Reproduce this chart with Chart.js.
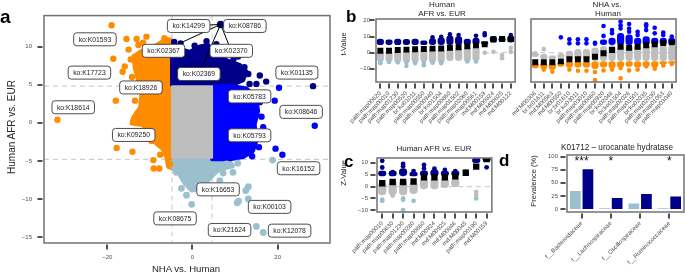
<!DOCTYPE html>
<html>
<head>
<meta charset="utf-8">
<script src="https://cdn.jsdelivr.net/npm/chart.js@4.4.1/dist/chart.umd.min.js"></script>
<style>
  body { margin: 0; background: #fff; }
  #wrap { position: relative; width: 685px; height: 278px; overflow: hidden; font-family: "Liberation Sans", Arial, sans-serif; }
  canvas { position: absolute; }
  .txt { position: absolute; white-space: nowrap; color: #262626; transform: translate(-50%, -50%); line-height: 1; }
  .rot { transform: translate(-50%, -50%) rotate(-90deg); }
  .tag { position: absolute; font-weight: bold; color: #000; line-height: 1; }
</style>
</head>
<body>
<div id="wrap">
  <canvas id="chartA" width="340" height="278" style="left:0;top:0"></canvas>
  <canvas id="chartB1" width="184" height="140" style="left:340px;top:0"></canvas>
  <canvas id="chartB2" width="185" height="140" style="left:500px;top:0"></canvas>
  <canvas id="chartC" width="160" height="138" style="left:340px;top:140px"></canvas>
  <canvas id="chartD" width="185" height="138" style="left:500px;top:140px"></canvas>

  <div class="tag" style="left:0;top:7px;font-size:19px">a</div>
  <div class="tag" style="left:346px;top:8px;font-size:17px">b</div>
  <div class="tag" style="left:344px;top:153px;font-size:17px">c</div>
  <div class="tag" style="left:499px;top:152px;font-size:17px">d</div>

  <div class="txt rot" style="left:12px;top:127px;font-size:10px">Human AFR vs. EUR</div>
  <div class="txt" style="left:186px;top:269px;font-size:9.6px">NHA vs. Human</div>

  <div class="txt" style="left:442px;top:5px;font-size:8px">Human</div>
  <div class="txt" style="left:442px;top:13.5px;font-size:8px">AFR vs. EUR</div>
  <div class="txt" style="left:607px;top:5px;font-size:8px">NHA vs.</div>
  <div class="txt" style="left:608px;top:13.5px;font-size:8px">Human</div>
  <div class="txt rot" style="left:344px;top:44px;font-size:7.5px">t-Value</div>

  <div class="txt" style="left:434px;top:148.5px;font-size:8px">Human AFR vs. EUR</div>
  <div class="txt rot" style="left:344px;top:173px;font-size:7.5px">Z-Value</div>

  <div class="txt" style="left:617px;top:147.5px;font-size:8.2px">K01712 – urocanate hydratase</div>
  <div class="txt rot" style="left:534px;top:181px;font-size:7.5px">Prevalence (%)</div>
</div>

<script>
// couleurs reprises de la figure
const ORANGE = '#FF8C00', NAVY = '#00008B', BLUE = '#0000FF', LIGHT = '#9AC0CD', GREY = '#BEBEBE';

// ---------- panneau a ----------
const aXTicks = [-20, 0, 20];
const aYTicks = [-15, -10, -5, 0, 5, 10];
const aCutX = [-4.8, 4.6];
const aCutY = [-4.8, 4.8];

// contours des nuages denses
const aOrangeCloud = [[-4.8,10.9],[-6.1,11.0],[-8.4,10.2],[-10.8,9.7],[-12.3,9.3],[-13.9,8.7],[-13.5,7.1],[-12.7,5.4],
  [-12.0,3.7],[-12.3,2.0],[-13.9,0.7],[-14.3,-0.1],[-11.6,-0.3],[-10.8,-1.5],[-8.4,-2.8],[-6.9,-3.5],[-6.1,-4.6],
  [-5.7,-5.8],[-4.8,-6.0],[-4.8,10.9]];
const aNavyCloud = [[-4.8,4.8],[-4.8,9.3],[-3.0,9.7],[-0.6,9.3],[1.7,10.0],[3.7,10.2],[4.8,9.3],[6.4,8.7],[8.8,8.0],
  [11.1,7.6],[12.7,6.7],[11.9,5.6],[9.5,5.0],[8.0,4.8],[-4.8,4.8]];
const aBlueCloud = [[4.6,4.8],[9.5,4.8],[12.7,4.5],[15.0,3.2],[15.4,1.5],[14.6,-0.2],[15.0,-2.4],[14.2,-3.7],
  [11.9,-4.5],[8.8,-4.8],[4.6,-4.8],[4.6,4.8]];
const aLightCloud = [[-4.8,-4.9],[4.6,-4.9],[8.8,-5.1],[9.5,-5.7],[6.4,-6.1],[4.8,-6.9],[3.3,-7.8],[1.7,-8.7],
  [-0.2,-8.9],[-1.8,-8.0],[-3.4,-6.5],[-4.8,-5.8],[-4.8,-4.9]];
const aGreyBox = [[-4.8,-4.6],[4.6,-4.6],[4.6,4.8],[-4.8,4.8],[-4.8,-4.6]];

// points isolés
const aOrangeDots = [[-19.0,12.8],[-15.5,11.0],[-13.1,11.0],[-10.8,11.3],[-12.7,10.2],[-6.6,11.1],[-18.6,8.4],
  [-15.9,7.4],[-16.4,6.7],[-18.0,2.9],[-13.5,2.9],[-31.7,0.4],[-17.8,-3.3],[-14.1,-3.8],[-9.2,-4.9],[-9.1,-6.0],
  [-7.8,-6.0],[-5.3,-5.4],[-13.9,0.2],[-14.5,8.3],[-14.2,6.0],[-14.8,4.6],[-13.0,1.2],[-9.6,-2.4],[-7.6,-4.2],
  [-15.0,9.6],[-11.6,10.5]];
const aNavyDots = [[10.7,8.7],[8.8,6.9],[11.1,7.1],[13.1,6.4],[15.8,6.2],[17.3,5.4],[15.0,5.1],[13.4,5.1],
  [28.3,4.8],[3.3,10.7],[5.6,10.3],[-4.3,10.6],[-2.8,10.4],[7.4,9.2],[9.6,8.3],[12.2,7.3],[0.5,10.1]];
const aNavyHit = [[6.6,12.9]];
const aBlueDots = [[20.3,4.6],[19.3,2.9],[15.8,2.7],[28.7,-0.4],[19.5,-3.4],[21.1,-4.2],[14.0,-4.4],[16.2,0.8],
  [15.8,-1.8],[16.0,3.8],[15.6,-3.2],[16.6,-0.6]];
const aLightDots = [[18.8,-4.9],[8.0,-5.4],[9.5,-6.5],[-3.8,-6.5],[12.5,-8.9],[13.1,-10.0],[10.5,-10.5],[10.8,-10.3],
  [-0.2,-10.7],[15.0,-13.6],[16.6,-14.4],[6.4,-7.6],[2.5,-9.2],[-1.4,-9.5],[13.1,-8.4],[10.6,-5.3],[7.2,-6.6],
  [-2.6,-8.6],[4.0,-8.4]];

// étiquettes : texte, x, y
const aLabels = [
  ['ko:K01593', -22.9, 10.95], ['ko:K14299', -0.9, 12.7], ['ko:K08786', 12.3, 12.7],
  ['ko:K02367', -6.8, 9.44], ['ko:K02370', 9.1, 9.44], ['ko:K02369', 1.5, 6.4],
  ['ko:K17723', -24.2, 6.58], ['ko:K01135', 24.5, 6.58], ['ko:K18926', -12.1, 4.63],
  ['ko:K05783', 13.4, 3.46], ['ko:K18614', -28.0, 2.03], ['ko:K08646', 25.5, 1.43],
  ['ko:K09250', -13.8, -1.6], ['ko:K05793', 13.4, -1.65], ['ko:K16152', 24.9, -5.97],
  ['ko:K16653', 6.0, -8.74], ['ko:K00103', 18.1, -11.04], ['ko:K08675', -4.1, -12.55],
  ['ko:K21624', 8.7, -14.07], ['ko:K12078', 22.8, -14.16]
];
const aLinks = ['ko:K14299', 'ko:K08786', 'ko:K02367', 'ko:K02370', 'ko:K02369'];

// ---------- panneau b ----------
const bYTicks = [-10, 0, 10, 20];
const bLeftCats = ['path:map00620','path:map00010','path:map01230','path:map00520','br:ko01011','path:map00550',
  'path:map00940','br:ko01504','path:map00860','path:map01502','path:map02060','path:map00561','md:M00159',
  'md:M00824','md:M00825','md:M00122'];
const bLeftMed = [1.2, 1.2, 1.7, 1.9, 2.1, 2.3, 2.5, 2.6, 3.1, 3.4, 3.9, 4.6, 5.2, 8.3, 8.5, 8.4];
const bLeftNavyBand = [[5,8.5],[5,8],[5,8.5],[5,8.3],[5,8.5],[5,7.3],[5,8.8],[5,9.3],[5,10.5],[5,10],[5,8.5],
  [5,9],[5.5,6.5],[6.5,10],[7,9.5],[6.5,10.3]];
const bLeftNavyDots = [[],[],[],[],[],[],[9.5],[9.9],[11.4],[11],[],[10.5],[10.8,12],[],[],[11]];
const bLeftGreyBand = [[-5.5,1],[-5.5,1],[-6,1.5],[-6,1.5],[-6,2],[-5.5,2],[-6,2.5],[-6,2.5],[-5,3],[-5,3],
  [-5.5,3.5],[-5,4],null,null,null,null];
const bLeftGreyDots = [[],[],[],[],[],[],[],[],[],[],[],[],[0],[0.5],[-1.5,-3.5],[3,0.5]];
const bLeftLightDots = [[-6,-6.5],[-5.8],[-6],[-6,-8.3],[-6.5],[-6,-7.8],[-6.2],[-6,-6.5],[],[],[-5.5],[-5.5],[],[],[],[]];

const bRightCats = ['md:M00308','br:br01611','md:M00563','md:M00550','br:br01610','br:ko03011','path:map03010',
  'path:map00860','path:map00920','br:ko02048','br:ko01504','path:map02026','path:map01501','br:ko02035',
  'path:map02030','path:map01053','path:map03040'];
const bRightMed = [-6, -6, -6, -5.4, -4.1, -4.1, -4.1, -2.5, -0.4, 1.7, 3.7, 3.1, 3.7, 4.6, 5.2, 6, 6.4];
const bRightBlueBand = [null,null,null,null,null,null,null,null,[5,8],[5,9],[5,12],[5,11],[5,9],[5,10],[5,9],[5,9],[5,9]];
const bRightBlueDots = [[],[],[],[9.5],[8.3,5.8],[8.3,5.8],[8.3,5.8],[6.2,5.5],[16.6,10.4],[14,12],[19.3,17,15],
  [17.8,15,13],[13,11],[17.6,16.5,14],[15.5,12],[12.5,11],[10]];
const bRightGreyBand = [[-2.5,0],[-4,-1],[-4,-2],[-3,-1],[-5,1],[-5,2],[-5,2],[-5,3],[-5,4],[-5,4.5],[-5,4.5],
  [-5,4.5],[-5,4.5],[-5,4.5],[-5,4.5],[-5,4.5],[-5,4.5]];
const bRightGreyDots = [[-0.4],[2.2],[],[-1.4],[],[],[],[],[],[],[],[],[],[],[],[],[]];
const bRightOrangeBand = [[-9.5,-6.5],[-10,-6],[-10.5,-6],[-8.5,-5.5],[-9,-5.5],[-9,-5.5],[-9,-5.5],[-10,-5.5],
  [-9,-5.5],[-9.5,-5.5],[-9,-5.5],[-8.5,-5.5],[-9,-5.5],[-8.5,-5.5],[-9,-5.5],[-7,-5.5],[-6.5,-5.5]];
const bRightOrangeDots = [[],[-10.5],[-11.8],[],[-10.5],[-11.2],[-11.2],[-17,-12],[-11],[-10.5],[-15.9,-9.5],
  [-11],[-10.5],[-8.5],[-10],[-8],[-7]];

// ---------- panneau c ----------
const cYTicks = [-10, -5, 0, 5, 10];
const cCats = ['path:map00010','path:map00630','path:map01230','path:map00280','path:map00860','md:M00924',
  'md:M00925','md:M00846','md:M00045','path:map00190','md:M00159'];
const cMed = [1.4, 1.9, 1.9, 2.1, 3.9, 3.9, 3.9, 4.3, 5.8, 8.4, 11.6];
const cNavyBand = [[4.5,6.5],[4.5,6.5],[4.5,7.5],[4.5,6],[4.5,6.5],[4.5,7],[4.5,6.5],[4.5,6.5],null,[10,12],[10.5,12.5]];
const cNavyDots = [[10.8,8],[6],[9.5,8.5],[6.5],[9.1,7.5],[7.5],[7],[6.5],[6.2],[8.5],[8.1]];
const cGreyBand = [[-3.5,2],[-3.5,2.5],[-3.5,2.5],[-3,2],[-1,3.5],[-1,3.5],[-0.5,3.5],[0,3.5],null,null,null];
const cGreyDots = [[],[-3.8],[-2.5],[],[],[],[],[],[],[-2.2,-3.6],[]];
const cLightDots = [[-6,-5.5],[],[-5,-5.6,-9.9],[-6],[],[],[],[],[],[-5],[]];

// ---------- panneau d ----------
const dYTicks = [0, 25, 50, 75, 100];
const dCats = ['f__Bacteroidaceae', 'f__Lachnospiraceae', 'f__Oscillospiraceae', 'f__Ruminococcaceae'];
const dLight = [36, 2.5, 12, 2.5];
const dNavy = [77.5, 22.3, 29.9, 25.4];
const dStars = ['***', '*', '', '*'];
const dStarY = 95;

Chart.defaults.font.family = '"Liberation Sans", Arial, sans-serif';
Chart.defaults.color = '#4d4d4d';

const minus = v => String(v).replace('-', '\u2212');

// cadre gris + petits traits de graduation
const frame = {
  id: 'frame',
  afterDraw(chart, args, opts) {
    const { ctx, chartArea: a } = chart;
    ctx.save();
    ctx.strokeStyle = '#727272';
    ctx.lineWidth = 1.5;
    ctx.strokeRect(a.left, a.top, a.right - a.left, a.bottom - a.top);
    ctx.strokeStyle = '#4f4f4f';
    ctx.lineWidth = 2;
    ctx.beginPath();
    const sx = chart.scales.x, sy = chart.scales.y;
    sx.ticks.forEach((t, i) => {
      const p = Math.round(sx.getPixelForTick(i));
      ctx.moveTo(p, a.bottom + 1.5);
      ctx.lineTo(p, a.bottom + 6.5);
    });
    if (opts.y !== false) {
      sy.ticks.forEach((t, i) => {
        const p = Math.round(sy.getPixelForTick(i));
        ctx.moveTo(a.left - 1.5, p);
        ctx.lineTo(a.left - 6.5, p);
      });
    }
    ctx.stroke();
    ctx.restore();
  }
};

// lignes pointillées de seuil
const refLines = {
  id: 'refLines',
  beforeDatasetsDraw(chart, args, opts) {
    const { ctx, chartArea: a, scales: { x, y } } = chart;
    ctx.save();
    ctx.setLineDash([5, 4]);
    ctx.strokeStyle = '#cfcfcf';
    ctx.lineWidth = 1.2;
    ctx.beginPath();
    (opts.xs || []).forEach(v => {
      const p = x.getPixelForValue(v);
      ctx.moveTo(p, a.top); ctx.lineTo(p, a.bottom);
    });
    (opts.ys || []).forEach(v => {
      const p = y.getPixelForValue(v);
      ctx.moveTo(a.left, p); ctx.lineTo(a.right, p);
    });
    ctx.stroke();
    ctx.restore();
  }
};

// étiquettes encadrées du panneau a
const koLabels = {
  id: 'koLabels',
  afterDatasetsDraw(chart) {
    const { ctx, scales: { x, y } } = chart;
    ctx.save();
    ctx.strokeStyle = '#000';
    ctx.lineWidth = 1;
    ctx.beginPath();
    const hx = x.getPixelForValue(aNavyHit[0][0]), hy = y.getPixelForValue(aNavyHit[0][1]);
    aLabels.filter(l => aLinks.includes(l[0])).forEach(l => {
      ctx.moveTo(hx, hy);
      ctx.lineTo(x.getPixelForValue(l[1]), y.getPixelForValue(l[2]));
    });
    ctx.stroke();
    ctx.font = '6.8px "Liberation Sans", Arial, sans-serif';
    ctx.textAlign = 'center';
    ctx.textBaseline = 'middle';
    aLabels.forEach(([t, lx, ly]) => {
      const px = x.getPixelForValue(lx), py = y.getPixelForValue(ly);
      const w = ctx.measureText(t).width + 10, h = 13;
      ctx.beginPath();
      if (ctx.roundRect) ctx.roundRect(px - w / 2, py - h / 2, w, h, 3);
      else ctx.rect(px - w / 2, py - h / 2, w, h);
      ctx.fillStyle = '#fff';
      ctx.fill();
      ctx.strokeStyle = '#3a3a3a';
      ctx.lineWidth = 0.9;
      ctx.stroke();
      ctx.fillStyle = '#222';
      ctx.fillText(t, px, py + 0.5);
    });
    ctx.restore();
  }
};

// étoiles de significativité (panneau d)
const stars = {
  id: 'stars',
  afterDatasetsDraw(chart) {
    const { ctx, scales: { x, y } } = chart;
    ctx.save();
    ctx.font = '12px "Liberation Sans", Arial, sans-serif';
    ctx.fillStyle = '#111';
    ctx.textAlign = 'center';
    ctx.textBaseline = 'middle';
    dStars.forEach((s, i) => {
      if (s) ctx.fillText(s, x.getPixelForValue(i), y.getPixelForValue(dStarY) + 3);
    });
    ctx.restore();
  }
};

function linScale(min, max, ticks, size, isX, pad, extra) {
  return Object.assign({
    type: 'linear', min: min, max: max,
    grid: { display: false, drawTicks: false },
    border: { display: false },
    afterBuildTicks: s => { s.ticks = ticks.map(v => ({ value: v })); },
    afterFit: s => { if (isX) s.height = size; else s.width = size; },
    ticks: { padding: pad, font: { size: 6 }, color: '#4d4d4d', callback: v => minus(v) }
  }, extra || {});
}

function catScale(height, pad) {
  return {
    type: 'category', offset: true,
    grid: { display: false, drawTicks: false },
    border: { display: false },
    afterFit: s => { s.height = height; },
    ticks: { padding: pad, font: { size: 6 }, color: '#4d4d4d', minRotation: 45, maxRotation: 45, autoSkip: false }
  };
}

function cloud(pts, color, order) {
  return {
    data: pts.map(p => ({ x: p[0], y: p[1] })), showLine: true, fill: 'shape',
    backgroundColor: color, borderColor: color, borderWidth: 4, borderJoinStyle: 'round',
    pointRadius: 0, order: order
  };
}

function dotsXY(pts, color, r, order) {
  return {
    data: pts.map(p => ({ x: p[0], y: p[1] })), pointRadius: r, pointBackgroundColor: color,
    pointBorderWidth: 0, order: order
  };
}

function band(data, color, w) {
  return {
    type: 'bar', data: data, backgroundColor: color, barThickness: w, borderRadius: w / 2,
    borderSkipped: false, grouped: false, order: 6
  };
}

function dots(cats, lists, color, r) {
  return {
    type: 'line', showLine: false,
    data: cats.flatMap((c, i) => lists[i].map(v => ({ x: c, y: v }))),
    pointRadius: r, pointBackgroundColor: color, pointBorderWidth: 0, order: 3
  };
}

function medians(vals, r) {
  return {
    type: 'line', showLine: false, data: vals, pointStyle: 'rect', pointRadius: r,
    pointBackgroundColor: '#000', pointBorderWidth: 0, order: 1
  };
}

const baseOpts = {
  responsive: false, animation: false, devicePixelRatio: 1,
  events: []
};

// panneau a
new Chart(document.getElementById('chartA'), {
  type: 'scatter',
  data: {
    datasets: [
      cloud(aOrangeCloud, ORANGE, 20),
      cloud(aNavyCloud, NAVY, 19),
      cloud(aLightCloud, LIGHT, 18),
      cloud(aBlueCloud, BLUE, 17),
      Object.assign(cloud(aGreyBox, GREY, 16), { borderWidth: 2 }),
      dotsXY(aOrangeDots, ORANGE, 3.2, 5),
      dotsXY(aNavyDots, NAVY, 3.2, 5),
      dotsXY(aBlueDots, BLUE, 3.2, 5),
      dotsXY(aLightDots, LIGHT, 3.4, 5),
      dotsXY(aNavyHit, NAVY, 3.8, 2)
    ]
  },
  options: Object.assign({}, baseOpts, {
    layout: { padding: { left: 0, top: 13, right: 10, bottom: 0 } },
    plugins: { legend: { display: false }, tooltip: { enabled: false }, refLines: { xs: aCutX, ys: aCutY } },
    scales: {
      x: linScale(-34.86, 32.28, aXTicks, 35, true, 11),
      y: linScale(-15.78, 14.06, aYTicks, 44, false, 12)
    }
  }),
  plugins: [refLines, koLabels, frame]
});

// panneau b, gauche
new Chart(document.getElementById('chartB1'), {
  type: 'bar',
  data: {
    labels: bLeftCats,
    datasets: [
      medians(bLeftMed, 4.2),
      dots(bLeftCats, bLeftNavyDots, NAVY, 2.3),
      dots(bLeftCats, bLeftGreyDots, GREY, 2.3),
      dots(bLeftCats, bLeftLightDots, LIGHT, 2.3),
      band(bLeftNavyBand, NAVY, 6.5),
      band(bLeftGreyBand, GREY, 6.5)
    ]
  },
  options: Object.assign({}, baseOpts, {
    layout: { padding: { left: 0, top: 19, right: 2, bottom: 0 } },
    plugins: { legend: { display: false }, tooltip: { enabled: false }, refLines: { ys: [0] } },
    scales: {
      x: catScale(58, 8),
      y: linScale(-18.2, 20.9, bYTicks, 36, false, 6)
    }
  }),
  plugins: [refLines, frame]
});

// panneau b, droite
new Chart(document.getElementById('chartB2'), {
  type: 'bar',
  data: {
    labels: bRightCats,
    datasets: [
      medians(bRightMed, 4.2),
      dots(bRightCats, bRightBlueDots, BLUE, 2.3),
      dots(bRightCats, bRightGreyDots, GREY, 2.3),
      dots(bRightCats, bRightOrangeDots, ORANGE, 2.3),
      band(bRightBlueBand, BLUE, 6.5),
      band(bRightGreyBand, GREY, 6.5),
      band(bRightOrangeBand, ORANGE, 6.5)
    ]
  },
  options: Object.assign({}, baseOpts, {
    layout: { padding: { left: 31, top: 19, right: 1, bottom: 0 } },
    plugins: { legend: { display: false }, tooltip: { enabled: false }, refLines: { ys: [0] }, frame: { y: false } },
    scales: {
      x: catScale(58, 8),
      y: linScale(-18.2, 20.9, bYTicks, 0, false, 6, { display: false })
    }
  }),
  plugins: [refLines, frame]
});

// panneau c
new Chart(document.getElementById('chartC'), {
  type: 'bar',
  data: {
    labels: cCats,
    datasets: [
      medians(cMed, 4.5),
      dots(cCats, cNavyDots, NAVY, 2.4),
      dots(cCats, cGreyDots, GREY, 2.4),
      dots(cCats, cLightDots, LIGHT, 2.4),
      band(cNavyBand, NAVY, 7.5),
      band(cGreyBand, GREY, 7.5)
    ]
  },
  options: Object.assign({}, baseOpts, {
    layout: { padding: { left: 0, top: 18, right: 6, bottom: 0 } },
    plugins: { legend: { display: false }, tooltip: { enabled: false }, refLines: { ys: [0] } },
    scales: {
      x: catScale(66, 8),
      y: linScale(-10.7, 12.0, cYTicks, 37, false, 9)
    }
  }),
  plugins: [refLines, frame]
});

// panneau d
new Chart(document.getElementById('chartD'), {
  type: 'bar',
  data: {
    labels: dCats,
    datasets: [
      { data: dLight, backgroundColor: LIGHT, borderColor: '#ffffff', borderWidth: 0.8 },
      { data: dNavy, backgroundColor: NAVY, borderColor: '#ffffff', borderWidth: 0.8 }
    ]
  },
  options: Object.assign({}, baseOpts, {
    layout: { padding: { left: 0, top: 15, right: 1, bottom: 0 } },
    datasets: { bar: { categoryPercentage: 0.86, barPercentage: 0.98 } },
    plugins: { legend: { display: false }, tooltip: { enabled: false } },
    scales: {
      x: catScale(66, 8),
      y: linScale(-5.7, 102.9, dYTicks, 67, false, 9)
    }
  }),
  plugins: [stars, frame]
});
</script>
</body>
</html>
